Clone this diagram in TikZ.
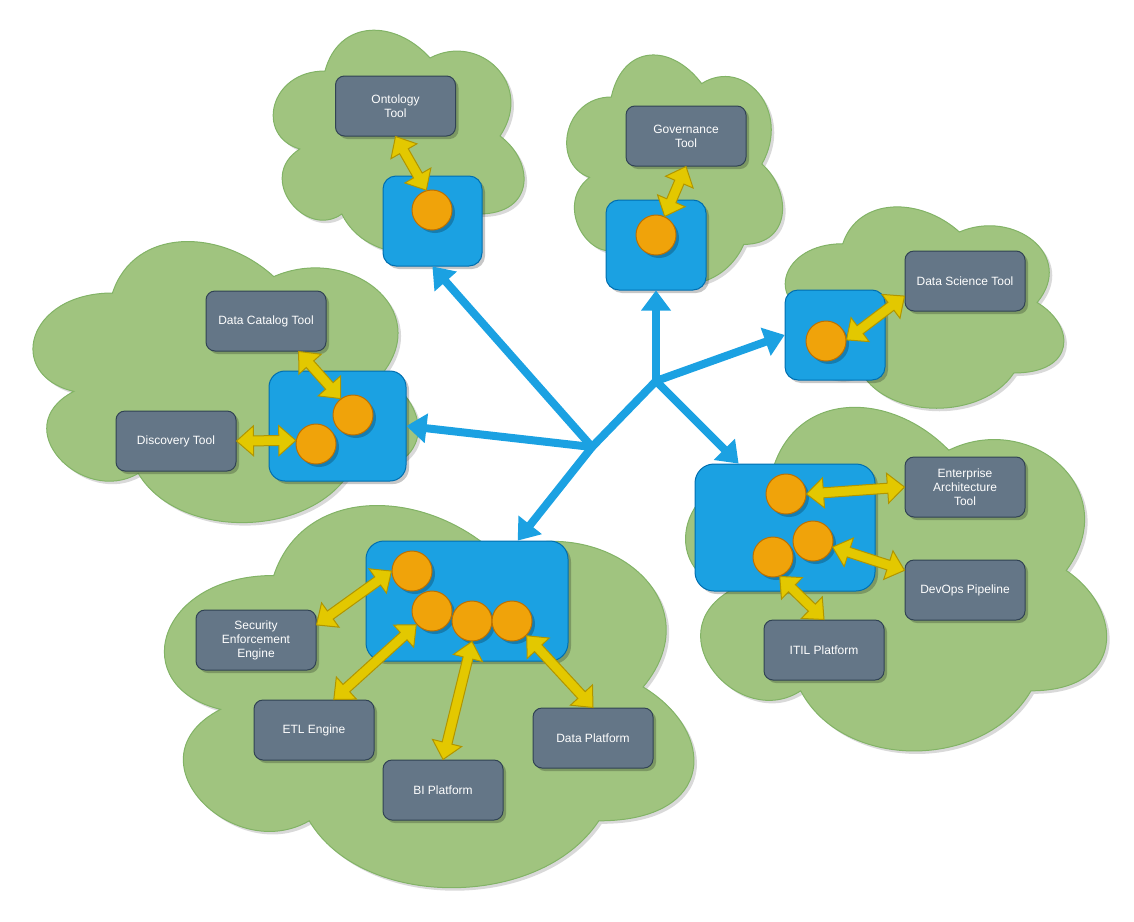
\documentclass[tikz,border=0pt]{standalone}
\usepackage{fontspec}
\setmainfont{Liberation Sans}
\usetikzlibrary{arrows.meta,shadows}
\definecolor{cloudfill}{HTML}{A0C47F}
\definecolor{cloudline}{HTML}{82B366}
\definecolor{bluefill}{HTML}{1BA1E2}
\definecolor{blueline}{HTML}{006EAF}
\definecolor{grayfill}{HTML}{647687}
\definecolor{grayline}{HTML}{314354}
\definecolor{orfill}{HTML}{F0A30A}
\definecolor{orline}{HTML}{BD7000}
\definecolor{yfill}{HTML}{E3C800}
\definecolor{yline}{HTML}{B09500}
\tikzset{
  cloudst/.style={draw=cloudline, fill=cloudfill, line width=1pt},
  shad/.style={drop shadow={shadow xshift=3pt, shadow yshift=-3pt, opacity=0.22, fill=black}},
  bluebox/.style={shad, draw=blueline, fill=bluefill, line width=1pt, inner sep=0pt},
  graybox/.style={shad, draw=grayline, fill=grayfill, line width=1pt, rounded corners=9pt,
    minimum width=120pt, minimum height=60pt, inner sep=0pt, text=white, align=center,
    font=\fontsize{12}{14}\selectfont},
  orb/.style={shad, circle, draw=orline, fill=orfill, line width=1pt, minimum size=40pt, inner sep=0pt},
  yarr/.style={draw=yline, fill=yfill, line width=1pt, line join=miter},
  barr/.style={draw=bluefill, line width=8pt, line cap=round,
    -{Triangle[length=20pt, width=30pt, line width=0pt]}},
  bline/.style={draw=bluefill, line width=8pt, line cap=round}
}
\newcommand\mycloud[4]{%
  \begin{scope}[shift={(#1+3,#2+3)},x=#3pt,y=-#4pt]
    \fill[black,opacity=0.15] (0.25,0.25) .. controls (0.05,0.25) and (0,0.5) .. (0.16,0.55) .. controls (0,0.66) and (0.18,0.9) .. (0.31,0.8) .. controls (0.4,1) and (0.7,1) .. (0.8,0.8) .. controls (1,0.8) and (1,0.6) .. (0.875,0.5) .. controls (1,0.3) and (0.8,0.1) .. (0.625,0.2) .. controls (0.5,0.05) and (0.3,0.05) .. (0.25,0.25) -- cycle;
  \end{scope}
  \begin{scope}[shift={(#1,#2)},x=#3pt,y=-#4pt]
    \draw[cloudst] (0.25,0.25) .. controls (0.05,0.25) and (0,0.5) .. (0.16,0.55) .. controls (0,0.66) and (0.18,0.9) .. (0.31,0.8) .. controls (0.4,1) and (0.7,1) .. (0.8,0.8) .. controls (1,0.8) and (1,0.6) .. (0.875,0.5) .. controls (1,0.3) and (0.8,0.1) .. (0.625,0.2) .. controls (0.5,0.05) and (0.3,0.05) .. (0.25,0.25) -- cycle;
  \end{scope}}
\newcommand\yarrow[2]{%
  \path (#1); \pgfgetlastxy{\yax}{\yay}%
  \path (#2); \pgfgetlastxy{\ybx}{\yby}%
  \pgfmathsetmacro\yang{atan2(\yby-\yay,\ybx-\yax)}%
  \pgfmathsetmacro\ylen{veclen(\ybx-\yax,\yby-\yay)}%
  \pgfmathsetmacro\ylenb{\ylen-17}%
  \draw[yarr,shift={(\yax,\yay)},rotate=\yang] (0pt,0pt) -- (17pt,15pt) -- (17pt,5pt) -- (\ylenb pt,5pt) -- (\ylenb pt,15pt) -- (\ylen pt,0pt) -- (\ylenb pt,-15pt) -- (\ylenb pt,-5pt) -- (17pt,-5pt) -- (17pt,-15pt) -- cycle;}
\begin{document}
\begin{tikzpicture}[x=1pt,y=-1pt]
\useasboundingbox (0,0) rectangle (1134,921);
% clouds
\mycloud{255}{6}{280}{260}
\mycloud{551}{30}{241}{268}
\mycloud{5}{211}{430}{328}
\mycloud{765}{185}{311}{235}
\mycloud{126}{464}{591}{446}
\mycloud{655}{370}{470}{401}
% blue boxes
\node[bluebox, rounded corners=13pt, minimum width=99pt, minimum height=90pt] (ob) at (432.5,221) {};
\node[bluebox, rounded corners=13pt, minimum width=100pt, minimum height=90pt] (gb) at (656,245) {};
\node[bluebox, rounded corners=13pt, minimum width=100pt, minimum height=90pt] (db) at (835,335) {};
\node[bluebox, rounded corners=16pt, minimum width=137pt, minimum height=110pt] (cb) at (337.5,426) {};
\node[bluebox, rounded corners=18pt, minimum width=202pt, minimum height=120pt] (bb) at (467,601) {};
\node[bluebox, rounded corners=19pt, minimum width=180pt, minimum height=127pt] (rb) at (785,527.5) {};
% orange circles
\node[orb] (oc) at (432,210) {};
\node[orb] (gc) at (656,235) {};
\node[orb] (dc) at (826,341) {};
\node[orb] (cc1) at (353,415) {};
\node[orb] (cc2) at (316,444) {};
\node[orb] (b1) at (412,571) {};
\node[orb] (b2) at (432,611) {};
\node[orb] (b3) at (472,621) {};
\node[orb] (b4) at (512,621) {};
\node[orb] (r1) at (786,494) {};
\node[orb] (r2) at (813,541) {};
\node[orb] (r3) at (773,557) {};
% gray boxes
\node[graybox] (ont) at (395.5,106) {Ontology\\Tool};
\node[graybox] (gov) at (686,136) {Governance\\Tool};
\node[graybox] (ds) at (965,281) {Data Science Tool};
\node[graybox] (cat) at (266,321) {Data Catalog Tool};
\node[graybox] (disc) at (176,441) {Discovery Tool};
\node[graybox] (sec) at (256,640) {Security\\Enforcement\\Engine};
\node[graybox] (etl) at (314,730) {ETL Engine};
\node[graybox] (bi) at (443,790) {BI Platform};
\node[graybox] (dp) at (593,738) {Data Platform};
\node[graybox] (ea) at (965,487) {Enterprise\\Architecture\\Tool};
\node[graybox] (dev) at (965,590) {DevOps Pipeline};
\node[graybox] (itil) at (824,650) {ITIL Platform};
% blue connectors
\coordinate (J1) at (592,447);
\coordinate (J2) at (656,381);
\draw[bline] (J1) -- (J2);
\draw[barr] (J1) -- (bb.50);
\draw[barr] (J1) -- (ob.south);
\draw[barr] (J1) -- (cb.east);
\draw[barr] (J2) -- (gb.south);
\draw[barr] (J2) -- (db.west);
\draw[barr] (J2) -- (rb.126);
% yellow double arrows
\yarrow{ont.south}{oc.106}
\yarrow{gov.south}{gc.65}
\yarrow{ds.194}{dc.3}
\yarrow{cat.317}{cc1.127}
\yarrow{disc.east}{cc2.170}
\yarrow{sec.14}{b1.west}
\yarrow{etl.57}{b2.221}
\yarrow{bi.north}{b3.south}
\yarrow{dp.north}{b4.315}
\yarrow{ea.west}{r1.east}
\yarrow{dev.162}{r2.343}
\yarrow{itil.north}{r3.289}
\end{tikzpicture}
\end{document}
